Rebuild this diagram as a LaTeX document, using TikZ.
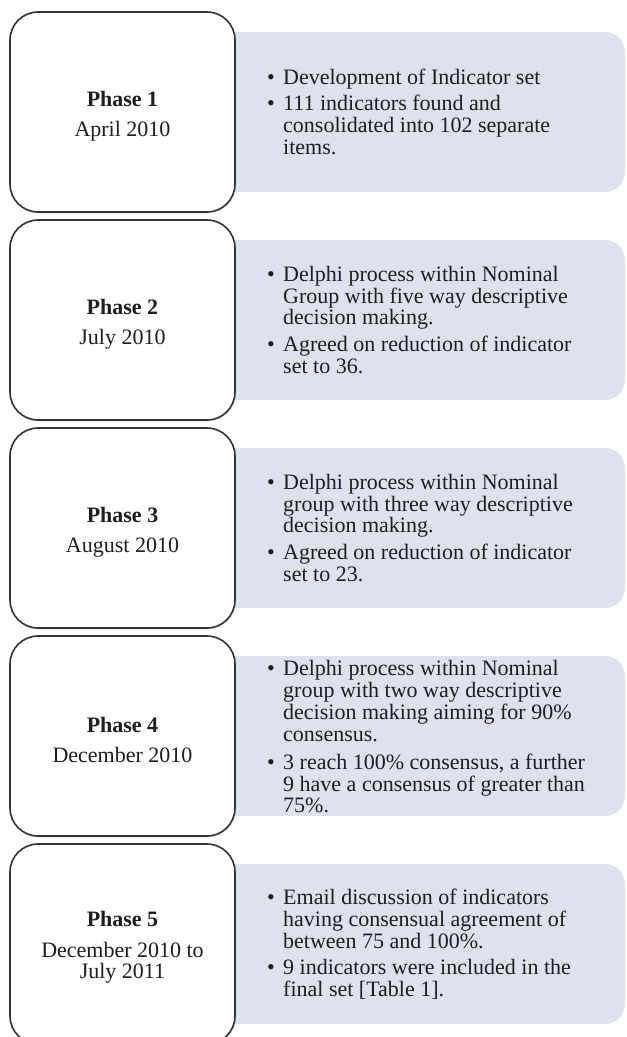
\documentclass[tikz,border=0pt]{standalone}
\usepackage{fontspec}
\setmainfont{Liberation Serif}
\usetikzlibrary{shadows}
\definecolor{infofill}{HTML}{DEE2EE}
\definecolor{darkink}{HTML}{1E1E1E}
\def\bul{\textbullet}

\begin{document}
\begin{tikzpicture}[x=1pt, y=-1pt,
	phasebox/.style={draw=black!80, line width=1.6pt, fill=white, rounded corners=28pt,
		minimum width=225pt, minimum height=200pt, inner sep=0pt,
		drop shadow={opacity=0.2, shadow xshift=1pt, shadow yshift=-1.5pt}},
	infobox/.style={fill=infofill, rounded corners=20pt, minimum width=410pt,
		minimum height=160pt, inner sep=0pt},
	phasetext/.style={align=center, text=darkink, font=\fontsize{22}{21}\selectfont},
	infotext/.style={anchor=west, inner sep=0pt, text=darkink, font=\fontsize{22}{21.7}\selectfont}]
			%%%%% START %%%%%
			
			\useasboundingbox (0, 0) rectangle (627, 1037);
			
			% grey boxes first, the phase boxes sit over their left ends
			\node[infobox] (info1) at (420, 112) {};
			\node[infobox] (info2) at (420, 320) {};
			\node[infobox] (info3) at (420, 528) {};
			\node[infobox] (info4) at (420, 736) {};
			\node[infobox] (info5) at (420, 944) {};
			
			\node[phasebox] (box1) at (122.5, 112) {};
			\node[phasebox] (box2) at (122.5, 320) {};
			\node[phasebox] (box3) at (122.5, 528) {};
			\node[phasebox] (box4) at (122.5, 736) {};
			\node[phasebox] (box5) at (122.5, 944) {};
			
			\node[phasetext] (phase1) at (122.5, 116) {\textbf{Phase 1}\\[9pt]April 2010};
			\node[phasetext] (phase2) at (122.5, 324) {\textbf{Phase 2}\\[9pt]July 2010};
			\node[phasetext] (phase3) at (122.5, 532) {\textbf{Phase 3}\\[9pt]August 2010};
			\node[phasetext] (phase4) at (122.5, 740) {\textbf{Phase 4}\\[9pt]December 2010};
			\node[phasetext] (phase5) at (122.5, 947) {\textbf{Phase 5}\\[10pt]December 2010 to\\July 2011};
			
			\node[infotext] (text1) at (267, 115) {\begin{tabular}{@{}p{16pt}@{}l@{}}
				\bul & Development of Indicator set\\[4pt]
				\bul & 111 indicators found and\\
				& consolidated into 102 separate\\
				& items.
			\end{tabular}};
			
			\node[infotext] (text2) at (267, 323) {\begin{tabular}{@{}p{16pt}@{}l@{}}
				\bul & Delphi process within Nominal\\
				& Group with five way descriptive\\
				& decision making.\\[5pt]
				\bul & Agreed on reduction of indicator\\
				& set to 36.
			\end{tabular}};
			
			\node[infotext] (text3) at (267, 531) {\begin{tabular}{@{}p{16pt}@{}l@{}}
				\bul & Delphi process within Nominal\\
				& group with three way descriptive\\
				& decision making.\\[5pt]
				\bul & Agreed on reduction of indicator\\
				& set to 23.
			\end{tabular}};
			
			\node[infotext] (text4) at (267, 740) {\begin{tabular}{@{}p{16pt}@{}l@{}}
				\bul & Delphi process within Nominal\\
				& group with two way descriptive\\
				& decision making aiming for 90\%\\
				& consensus.\\[6pt]
				\bul & 3 reach 100\% consensus, a further\\
				& 9 have a consensus of greater than\\
				& 75\%.
			\end{tabular}};
			
			\node[infotext] (text5) at (267, 946) {\begin{tabular}{@{}p{16pt}@{}l@{}}
				\bul & Email discussion of indicators\\
				& having consensual agreement of\\
				& between 75 and 100\%.\\[5pt]
				\bul & 9 indicators were included in the\\
				& final set [Table 1].
			\end{tabular}};
			
			%%%%% END %%%%%
\end{tikzpicture}
\end{document}
